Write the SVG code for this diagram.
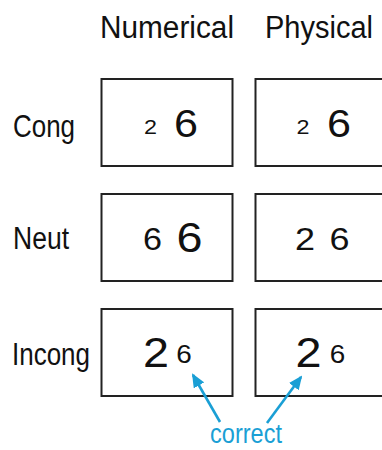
<svg xmlns="http://www.w3.org/2000/svg" width="382" height="450" viewBox="0 0 382 450">
<defs>
<style>
text{font-family:"Liberation Sans",Arial,sans-serif;fill:#111}
.lbl{font-size:31px}
.d{text-anchor:middle}
.box{fill:#fff;stroke:#222;stroke-width:2}
.arr{stroke:#1a9fd5;stroke-width:2.6;fill:none}
.blue{fill:#1a9fd5}
</style>
<marker id="ah" viewBox="0 0 14 12" refX="12" refY="6" markerWidth="14" markerHeight="12" markerUnits="userSpaceOnUse" orient="auto">
<path d="M0,0 L14,6 L0,12 Z" fill="#1a9fd5"/>
</marker>
</defs>
<g id="headers">
<text class="lbl" x="100" y="38" font-size="32" textLength="134" lengthAdjust="spacingAndGlyphs">Numerical</text>
<text class="lbl" x="265" y="38" font-size="32" textLength="108" lengthAdjust="spacingAndGlyphs">Physical</text>
</g>
<g id="rowlabels">
<text class="lbl" x="13" y="137" textLength="62" lengthAdjust="spacingAndGlyphs">Cong</text>
<text class="lbl" x="13" y="249" textLength="56" lengthAdjust="spacingAndGlyphs">Neut</text>
<text class="lbl" x="12" y="365" textLength="78" lengthAdjust="spacingAndGlyphs">Incong</text>
</g>
<g id="cong-num">
<rect class="box" x="101.5" y="79" width="131" height="87"/>
<text class="d" x="150.5" y="134" font-size="21" textLength="13" lengthAdjust="spacingAndGlyphs">2</text>
<text class="d" x="186" y="137" font-size="39" textLength="24" lengthAdjust="spacingAndGlyphs">6</text>
</g>
<g id="cong-phys">
<rect class="box" x="255.5" y="79" width="131" height="87"/>
<text class="d" x="303" y="134" font-size="21" textLength="13" lengthAdjust="spacingAndGlyphs">2</text>
<text class="d" x="339" y="137" font-size="39" textLength="24" lengthAdjust="spacingAndGlyphs">6</text>
</g>
<g id="neut-num">
<rect class="box" x="101.5" y="194" width="131" height="87"/>
<text class="d" x="152.5" y="250" font-size="31" textLength="19" lengthAdjust="spacingAndGlyphs">6</text>
<text class="d" x="189.5" y="252" font-size="42" textLength="26" lengthAdjust="spacingAndGlyphs">6</text>
</g>
<g id="neut-phys">
<rect class="box" x="255.5" y="194" width="131" height="87"/>
<text class="d" x="305" y="250" font-size="32" textLength="20" lengthAdjust="spacingAndGlyphs">2</text>
<text class="d" x="339.5" y="250" font-size="32" textLength="20" lengthAdjust="spacingAndGlyphs">6</text>
</g>
<g id="incong-num">
<rect class="box" x="101.5" y="309" width="131" height="87"/>
<text class="d" x="156" y="367" font-size="42" textLength="26" lengthAdjust="spacingAndGlyphs">2</text>
<text class="d" x="184" y="363" font-size="25" textLength="15.5" lengthAdjust="spacingAndGlyphs">6</text>
</g>
<g id="incong-phys">
<rect class="box" x="255.5" y="309" width="131" height="87"/>
<text class="d" x="308.5" y="367" font-size="42" textLength="26" lengthAdjust="spacingAndGlyphs">2</text>
<text class="d" x="337.5" y="363" font-size="25" textLength="15.5" lengthAdjust="spacingAndGlyphs">6</text>
</g>
<g id="connectors">
<line class="arr" x1="220" y1="422" x2="193" y2="375" marker-end="url(#ah)"/>
<line class="arr" x1="267" y1="423" x2="301" y2="377" marker-end="url(#ah)"/>
</g>
<g id="correct">
<text class="blue" x="210" y="443" font-size="27" textLength="72" lengthAdjust="spacingAndGlyphs">correct</text>
</g>
</svg>
